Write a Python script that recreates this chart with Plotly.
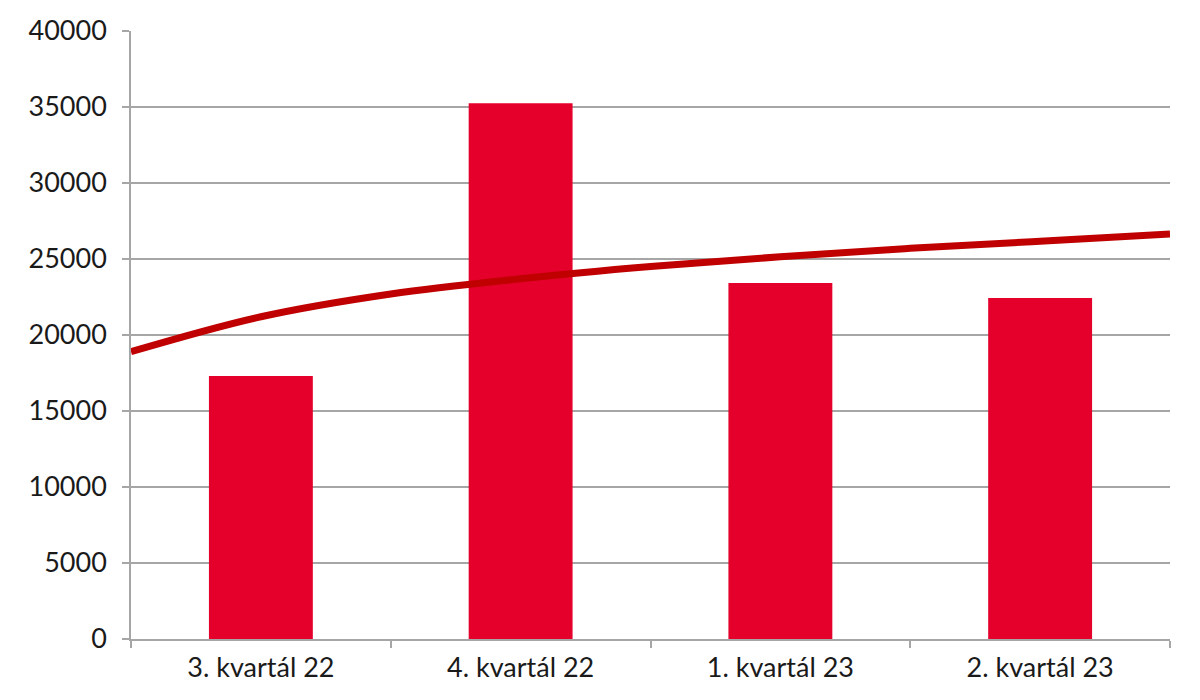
import plotly.graph_objects as go

categories = ["3. kvartál 22", "4. kvartál 22", "1. kvartál 23", "2. kvartál 23"]
values = [17300, 35250, 23420, 22430]

# logarithmic trend line (position in category units, value)
trend_pos = [-0.5, 0.0, 0.5, 1.0, 1.5, 2.0, 2.5, 3.0, 3.5]
trend_val = [18900, 21200, 22700, 23700, 24500, 25150, 25700, 26170, 26640]

y_ticks = [0, 5000, 10000, 15000, 20000, 25000, 30000, 35000, 40000]

BAR = "#E4002B"
TREND = "#C00000"
GRID = "#A6A6A6"
FONT = "Lato"
TXT = "#1a1a1a"

fig = go.Figure()
fig.add_trace(go.Bar(
    x=list(range(len(categories))), y=values,
    width=0.4, marker=dict(color=BAR, line=dict(width=0)),
    showlegend=False, hoverinfo="y",
))
fig.add_trace(go.Scatter(
    x=trend_pos, y=trend_val, mode="lines",
    line=dict(color=TREND, width=7, shape="spline", smoothing=1.0),
    showlegend=False, hoverinfo="skip",
))

# the page body adds an 8px margin, so the figure is sized to fit the window
fig.update_layout(
    width=1184, height=684,
    margin=dict(l=123, r=22, t=23, b=53),
    paper_bgcolor="white", plot_bgcolor="white",
    font=dict(family=FONT, size=26, color=TXT),
)
fig.update_xaxes(
    range=[-0.5, 3.5], automargin=False,
    tickvals=list(range(len(categories))), ticktext=categories,
    ticks="", showgrid=False,
    showline=True, linecolor=GRID, linewidth=1.5,
    zeroline=False,
    minor=dict(tickvals=[-0.5, 0.5, 1.5, 2.5, 3.5], ticks="outside",
               ticklen=7, tickcolor=GRID, tickwidth=1.5, showgrid=False),
    tickfont=dict(family=FONT, size=27, color=TXT),
    ticklabelstandoff=4,
)
fig.update_yaxes(
    range=[0, 40000], automargin=False,
    tickvals=y_ticks, ticktext=[str(v) for v in y_ticks],
    ticks="outside", ticklen=7, tickcolor=GRID, tickwidth=1.5,
    showgrid=True, gridcolor=GRID, gridwidth=1.5,
    showline=True, linecolor=GRID, linewidth=1.5,
    zeroline=False,
    tickfont=dict(family=FONT, size=27, color=TXT),
    ticklabelstandoff=10,
)

fig.write_html("out.html")
